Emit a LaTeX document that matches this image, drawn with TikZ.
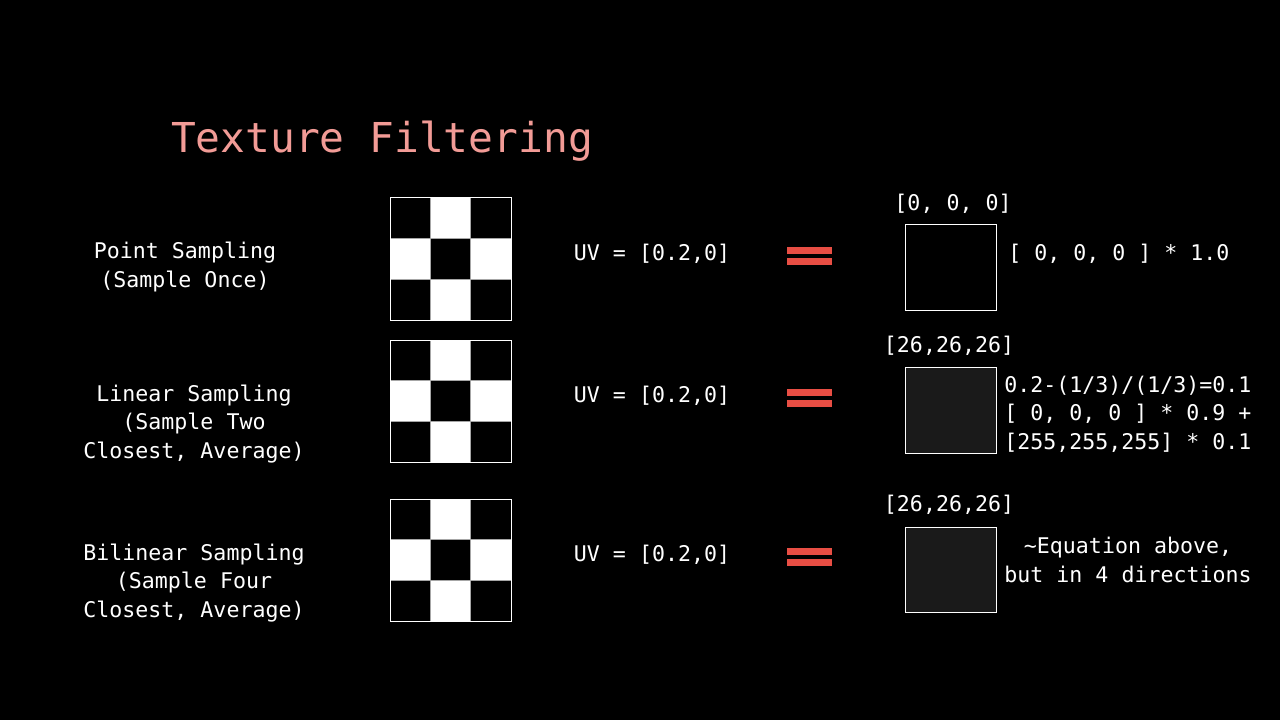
\documentclass[tikz,border=0pt]{standalone}
\usepackage{fontspec}
\setmonofont{DejaVu Sans Mono}
\usetikzlibrary{positioning}
\definecolor{titlepink}{RGB}{242,155,150}
\definecolor{eqred}{RGB}{232,78,68}
\definecolor{darkcell}{RGB}{26,26,26}
\tikzset{
  lbl/.style={text=white,font=\ttfamily\fontsize{16.2}{21.4}\selectfont,align=center,inner sep=0pt},
  ttl/.style={text=titlepink,font=\ttfamily\fontsize{30.9}{36}\selectfont,inner sep=0pt},
  resbox/.style={draw=white,line width=0.75pt},
  bar/.style={fill=eqred}
}
\newcommand{\checkerboard}[2]{%
  \foreach \i/\j in {1/0,0/1,2/1,1/2}
    \fill[white] ({#1+40.33*\i},{#2+40.67*\j}) rectangle ++(40.33,40.67);
  \foreach \k in {1,2}{
    \draw[gray!70,line width=0.75pt] ({#1+40.33*\k},#2) -- ++(0,122);
    \draw[gray!70,line width=0.75pt] (#1,{#2+40.67*\k}) -- ++(121,0);
  }
  \draw[white,line width=0.75pt] (#1,#2) rectangle ++(121,122);
}
\newcommand{\equalsign}[1]{%
  \fill[bar] (787,{#1-9}) rectangle (832,{#1-2});
  \fill[bar] (787,{#1+2}) rectangle (832,{#1+9});
}
\begin{document}
\begin{tikzpicture}[x=0.75pt,y=-0.75pt]
\useasboundingbox (0,0) rectangle (1280,720);
\fill[black] (0,0) rectangle (1280,720);
\node[ttl] (title) at (382,141) {Texture Filtering};
% sampling kinds
\node[lbl] (point) at (185,267) {Point Sampling\\(Sample Once)};
\node[lbl] (linear) at (194,424) {Linear Sampling\\(Sample Two\\Closest, Average)};
\node[lbl] (bilinear) at (194,583) {Bilinear Sampling\\(Sample Four\\Closest, Average)};
% textures
\checkerboard{390}{198}
\checkerboard{390}{340}
\checkerboard{390}{499}
% coordinates
\node[lbl] (uv1) at (652,254) {UV = [0.2,0]};
\node[lbl] (uv2) at (652,396) {UV = [0.2,0]};
\node[lbl] (uv3) at (652,555) {UV = [0.2,0]};
% equals
\equalsign{256}
\equalsign{398}
\equalsign{557}
% results
\draw[resbox,fill=black] (905,225) rectangle (996,310);
\draw[resbox,fill=darkcell] (905,367) rectangle (996,453);
\draw[resbox,fill=darkcell] (905,527) rectangle (996,612);
\node[lbl] (val1) at (953,204) {[0, 0, 0]};
\node[lbl] (val2) at (949,346) {[26,26,26]};
\node[lbl] (val3) at (949,505) {[26,26,26]};
\node[lbl,anchor=west] (calc1) at (1008,254) {[ 0, 0, 0 ] * 1.0};
\node[lbl,anchor=west,align=left] (calc2) at (1004,414) {0.2-(1/3)/(1/3)=0.1\\{}[ 0, 0, 0 ] * 0.9 +\\{}[255,255,255] * 0.1};
\node[lbl] (calc3) at (1128,560) {\textasciitilde Equation above,\\but in 4 directions};
\end{tikzpicture}
\end{document}
